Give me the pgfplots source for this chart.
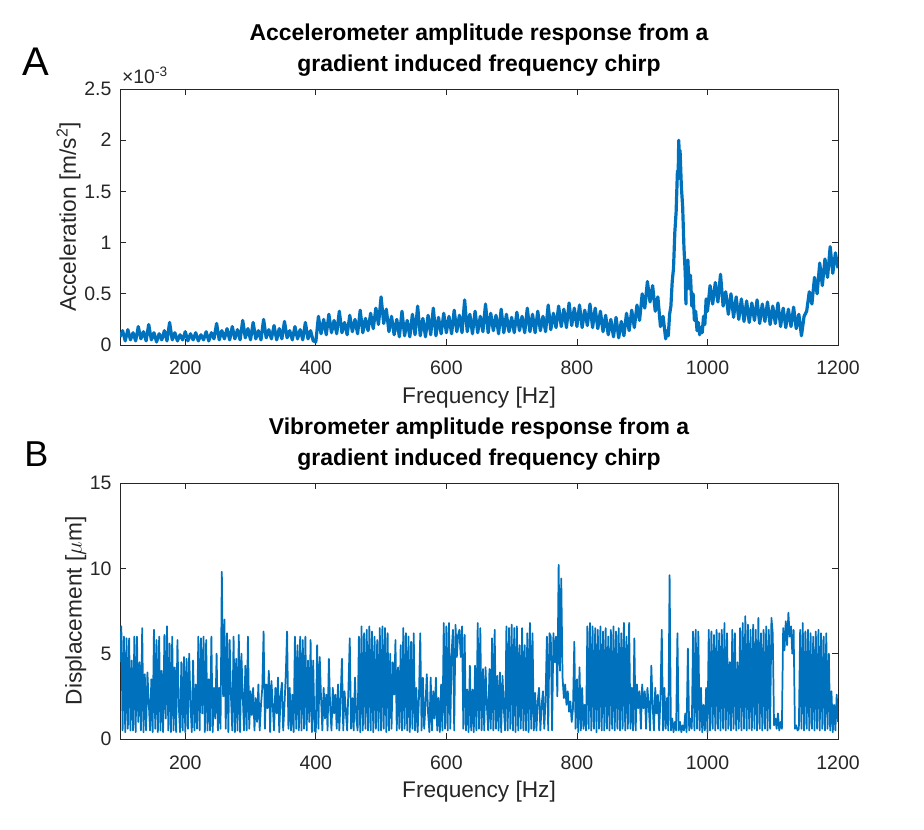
\documentclass[border=0pt]{standalone}
\usepackage{fontspec}
\setmainfont{Liberation Sans}
\usepackage{pgfplots}
\pgfplotsset{compat=1.18}
\definecolor{mblue}{RGB}{0,114,189}
\definecolor{axgray}{gray}{0.15}
\begin{document}
\begin{tikzpicture}
\useasboundingbox (0,0) rectangle (693pt,621.75pt);
\pgfplotsset{
  matlab/.style={
    width=538.5pt, height=192pt, scale only axis,
    xmin=100, xmax=1200, xtick={200,400,600,800,1000,1200},
    axis line style={axgray, line width=0.6pt},
    every tick/.style={axgray, line width=0.6pt},
    tick align=inside,
    /pgf/number format/assume math mode=true,
    /pgf/number format/1000 sep={},
    ticklabel style={font=\fontsize{14.6pt}{17pt}\selectfont, text=axgray},
    xticklabel style={anchor=base, inner sep=0pt, yshift=-22.5pt},
    yticklabel style={anchor=east, inner sep=0pt, xshift=-6.2pt},
    label style={font=\fontsize{17pt}{20pt}\selectfont, text=axgray},
    xlabel style={at={(axis description cs:0.5,-0.2276)}, anchor=base, inner sep=0pt},
    title style={font=\bfseries\fontsize{17.2pt}{23.6pt}\selectfont, align=center,
      at={(axis description cs:0.5,1)}, anchor=south, inner sep=0pt, yshift=3.1pt},
  }
}
\begin{axis}[matlab, name=top, at={(90pt,363pt)}, anchor=south west,
  ymin=0, ymax=2.5, ytick={0,0.5,1,1.5,2,2.5},
  xlabel={Frequency [Hz]},
  ylabel={Acceleration [m/s\textsuperscript{2}]},
  ylabel style={at={(axis description cs:-0.0613,0.5)}, anchor=base, inner sep=0pt},
  title={Accelerometer amplitude response from a\\gradient induced frequency chirp}]
\addplot[mblue, line width=2.4pt, line join=round, no markers] coordinates {
(100,0.08)(104,0.14)(108,0.04)(112,0.15)(116,0.05)(120,0.12)(124,0.04)(128,0.18)(132,0.06)(136,0.13)
(140,0.04)(144,0.20)(148,0.05)(152,0.12)(156,0.03)(160,0.11)(164,0.05)(168,0.14)(172,0.04)(176,0.22)
(180,0.05)(184,0.12)(188,0.04)(192,0.10)(196,0.05)(200,0.13)(204,0.04)(208,0.11)(212,0.05)(216,0.12)
(220,0.04)(224,0.10)(228,0.05)(232,0.13)(236,0.04)(240,0.12)(244,0.06)(248,0.21)(252,0.05)(256,0.14)
(260,0.06)(264,0.16)(268,0.05)(272,0.18)(276,0.06)(280,0.15)(284,0.05)(288,0.24)(292,0.07)(296,0.16)
(300,0.05)(304,0.22)(308,0.06)(312,0.14)(316,0.05)(320,0.25)(324,0.07)(328,0.15)(332,0.06)(336,0.19)
(340,0.05)(344,0.16)(348,0.06)(352,0.23)(356,0.07)(360,0.14)(364,0.05)(368,0.18)(372,0.06)(376,0.15)
(380,0.05)(384,0.22)(388,0.06)(392,0.14)(396,0.04)(400,0.03)(404,0.28)(408,0.11)(412,0.25)(416,0.10)
(420,0.30)(424,0.12)(428,0.24)(432,0.11)(436,0.33)(440,0.12)(444,0.22)(448,0.10)(452,0.29)(456,0.13)
(460,0.25)(464,0.11)(468,0.34)(472,0.12)(476,0.26)(480,0.14)(484,0.31)(488,0.16)(492,0.36)(496,0.20)
(500,0.47)(504,0.21)(508,0.35)(512,0.13)(516,0.28)(520,0.10)(524,0.25)(528,0.08)(532,0.33)(536,0.09)
(540,0.24)(544,0.08)(548,0.30)(552,0.10)(556,0.38)(560,0.09)(564,0.26)(568,0.08)(572,0.29)(576,0.10)
(580,0.36)(584,0.09)(588,0.27)(592,0.11)(596,0.31)(600,0.12)(604,0.28)(608,0.11)(612,0.34)(616,0.13)
(620,0.29)(624,0.12)(628,0.44)(632,0.13)(636,0.30)(640,0.11)(644,0.33)(648,0.12)(652,0.28)(656,0.13)
(660,0.40)(664,0.12)(668,0.31)(672,0.14)(676,0.29)(680,0.11)(684,0.35)(688,0.12)(692,0.30)(696,0.13)
(700,0.27)(704,0.12)(708,0.32)(712,0.14)(716,0.28)(720,0.12)(724,0.36)(728,0.13)(732,0.30)(736,0.12)
(740,0.33)(744,0.14)(748,0.28)(752,0.13)(756,0.39)(760,0.15)(764,0.31)(768,0.17)(772,0.38)(776,0.18)
(780,0.35)(784,0.17)(788,0.41)(792,0.19)(796,0.36)(800,0.18)(804,0.39)(808,0.17)(812,0.34)(816,0.19)
(820,0.40)(824,0.17)(828,0.36)(832,0.16)(836,0.33)(840,0.13)(844,0.29)(848,0.10)(852,0.25)(856,0.08)
(860,0.27)(864,0.07)(868,0.23)(872,0.09)(876,0.31)(880,0.14)(884,0.34)(888,0.17)(892,0.39)(896,0.24)
(900,0.50)(904,0.36)(908,0.62)(912,0.42)(916,0.58)(920,0.33)(924,0.47)(928,0.18)(932,0.28)(936,0.06)
(938,0.14)(940,0.09)(942,0.30)(944,0.38)(946,0.62)(948,0.75)(950,1.10)(952,1.30)(954,1.70)(955,1.62)
(956,2.00)(957,1.82)(958,1.90)(960,1.55)(962,1.35)(964,0.95)(966,0.70)(967,0.40)(968,0.78)(970,0.83)
(972,0.55)(974,0.68)(976,0.38)(978,0.50)(980,0.24)(982,0.33)(984,0.14)(986,0.22)(988,0.10)(990,0.17)
(992,0.12)(994,0.28)(996,0.20)(998,0.45)(1000,0.33)(1004,0.58)(1008,0.40)(1012,0.61)(1016,0.42)(1020,0.69)
(1024,0.38)(1028,0.52)(1032,0.30)(1036,0.50)(1040,0.27)(1044,0.47)(1048,0.25)(1052,0.45)(1056,0.23)(1060,0.43)
(1064,0.22)(1068,0.41)(1072,0.24)(1076,0.44)(1080,0.21)(1084,0.40)(1088,0.23)(1092,0.42)(1096,0.20)(1100,0.38)
(1104,0.21)(1108,0.41)(1112,0.18)(1116,0.36)(1120,0.17)(1124,0.35)(1128,0.18)(1132,0.37)(1136,0.16)(1140,0.30)
(1144,0.09)(1148,0.28)(1152,0.33)(1156,0.52)(1160,0.40)(1164,0.66)(1168,0.50)(1172,0.80)(1176,0.58)(1180,0.84)
(1184,0.66)(1188,0.96)(1192,0.70)(1196,0.90)(1200,0.75)
};
\end{axis}
\node[anchor=base west, inner sep=0pt, font=\fontsize{14.6pt}{17pt}\selectfont, text=axgray]
  at ([xshift=1.3pt,yshift=4.3pt]top.north west) {×10\textsuperscript{-3}};
\node[anchor=base west, inner sep=0pt, font=\fontsize{30pt}{36pt}\selectfont] at (16.3pt,564.75pt) {A};

\begin{axis}[matlab, name=bot, at={(90pt,67.5pt)}, anchor=south west,
  ymin=0, ymax=15, ytick={0,5,10,15},
  xlabel={Frequency [Hz]},
  ylabel={Displacement [$\mu$m]},
  ylabel style={at={(axis description cs:-0.0533,0.5)}, anchor=base, inner sep=0pt},
  title={Vibrometer amplitude response from a\\gradient induced frequency chirp}]
\addplot[mblue, line width=1.3pt, line join=round, no markers] coordinates {
(100,4.5)(102,6.6)(104,0.5)(106,6.0)(108,0.4)(110,5.9)(112,0.6)(114,5.9)(116,0.5)(118,4.6)
(120,0.5)(122,6.0)(124,0.4)(126,6.0)(128,1.0)(130,4.5)(132,0.5)(134,6.5)(136,0.4)(138,3.8)
(140,0.5)(142,3.9)(144,2.2)(146,0.5)(148,3.5)(150,0.4)(152,6.4)(154,0.6)(156,5.8)(158,0.4)
(160,6.0)(162,0.5)(164,4.0)(166,0.4)(168,6.1)(170,1.2)(172,6.6)(174,0.5)(176,5.6)(178,0.4)
(180,6.0)(182,0.5)(184,4.2)(186,0.4)(188,5.8)(190,2.0)(192,0.4)(194,4.5)(196,0.5)(198,4.8)
(200,0.4)(202,4.7)(204,0.6)(206,5.0)(208,2.0)(210,0.4)(212,4.6)(214,0.5)(216,3.2)(218,0.6)
(220,6.0)(222,0.5)(224,5.9)(226,1.5)(228,6.0)(230,0.4)(232,5.8)(234,0.5)(236,3.5)(238,0.5)
(240,6.0)(242,0.4)(244,3.0)(246,1.2)(248,5.0)(250,0.5)(252,3.0)(254,0.6)(256,9.8)(258,2.5)
(260,7.0)(262,0.6)(264,6.2)(266,0.4)(268,5.8)(270,2.5)(272,0.5)(274,6.0)(276,0.4)(278,4.7)
(280,0.5)(282,6.1)(284,0.4)(286,5.0)(288,2.6)(290,0.5)(292,4.3)(294,0.5)(296,6.0)(298,0.6)
(300,2.8)(302,1.4)(304,3.0)(306,0.5)(308,2.4)(310,1.0)(312,3.2)(314,0.5)(316,2.0)(318,3.0)
(320,6.3)(322,0.6)(324,3.2)(326,1.8)(328,4.0)(330,0.4)(332,3.4)(334,2.0)(336,0.5)(338,3.0)
(340,1.5)(342,3.6)(344,0.4)(346,2.5)(348,3.3)(350,0.5)(352,2.0)(354,3.8)(356,6.3)(358,0.6)
(360,3.0)(362,0.5)(364,2.6)(366,0.4)(368,6.0)(370,0.6)(372,5.5)(374,0.5)(376,6.0)(378,0.5)
(380,5.8)(382,0.6)(384,6.0)(386,0.5)(388,4.6)(390,1.0)(392,5.8)(394,0.4)(396,4.6)(398,0.5)
(400,0.4)(402,5.5)(404,0.6)(406,4.8)(408,2.4)(410,0.5)(412,3.0)(414,1.2)(416,2.6)(418,0.5)
(420,4.7)(422,1.8)(424,0.5)(426,3.0)(428,1.5)(430,2.6)(432,0.6)(434,3.2)(436,0.5)(438,2.4)
(440,4.7)(442,0.5)(444,2.8)(446,1.6)(448,0.5)(450,3.0)(452,5.9)(454,0.6)(456,2.4)(458,0.5)
(460,3.6)(462,1.2)(464,0.5)(466,6.0)(468,0.4)(470,6.6)(472,0.5)(474,6.2)(476,0.6)(478,6.4)
(480,0.5)(482,6.6)(484,0.5)(486,6.3)(488,0.4)(490,6.0)(492,0.6)(494,5.8)(496,0.5)(498,6.5)
(500,0.5)(502,6.6)(504,0.6)(506,6.5)(508,0.4)(510,6.2)(512,0.5)(514,5.0)(516,0.6)(518,4.5)
(520,2.6)(522,5.8)(524,0.5)(526,4.2)(528,0.6)(530,5.5)(532,0.5)(534,6.5)(536,0.6)(538,6.2)
(540,0.5)(542,6.0)(544,0.4)(546,5.7)(548,0.6)(550,6.2)(552,0.5)(554,3.0)(556,0.4)(558,2.4)
(560,6.2)(562,0.5)(564,3.6)(566,0.6)(568,2.0)(570,3.8)(572,1.5)(574,0.4)(576,3.6)(578,0.5)
(580,2.8)(582,1.2)(584,3.6)(586,0.5)(588,2.4)(590,0.4)(592,3.2)(594,0.5)(596,6.8)(598,0.6)
(600,6.6)(602,0.5)(604,6.8)(606,0.6)(608,5.0)(610,6.4)(612,0.5)(614,6.7)(616,4.8)(618,6.1)
(620,6.4)(622,4.8)(624,6.6)(626,0.6)(628,6.1)(630,0.5)(632,2.9)(634,0.4)(636,4.3)(638,0.5)
(640,2.9)(642,0.4)(644,4.3)(646,0.5)(648,6.8)(650,0.6)(652,6.5)(654,0.5)(656,4.1)(658,0.5)
(660,4.2)(662,2.0)(664,0.5)(666,4.1)(668,0.6)(670,5.9)(672,0.5)(674,6.4)(676,0.6)(678,3.7)
(680,0.5)(682,3.9)(684,0.4)(686,3.7)(688,1.8)(690,0.5)(692,6.6)(694,0.5)(696,6.5)(698,0.6)
(700,6.7)(702,0.5)(704,6.5)(706,0.4)(708,6.6)(710,0.5)(712,5.5)(714,0.6)(716,6.5)(718,0.5)
(720,5.5)(722,0.5)(724,6.2)(726,0.4)(728,6.8)(730,0.6)(732,6.2)(734,0.5)(736,2.7)(738,0.5)
(740,2.2)(742,3.0)(744,0.5)(746,2.0)(748,2.8)(750,0.6)(752,2.4)(754,6.0)(756,0.5)(758,6.2)
(760,6.0)(762,0.5)(764,6.2)(766,4.5)(768,6.0)(770,2.5)(772,10.2)(774,4.0)(776,9.4)(778,3.6)
(780,2.4)(782,3.2)(784,2.0)(786,2.8)(788,1.6)(790,2.2)(792,1.0)(794,1.8)(796,5.7)(798,0.6)
(800,3.5)(802,0.4)(804,4.2)(806,0.5)(808,3.0)(810,0.6)(812,2.0)(814,0.5)(816,6.6)(818,0.6)
(820,6.8)(822,0.5)(824,6.6)(826,0.6)(828,6.5)(830,0.4)(832,6.4)(834,0.6)(836,6.6)(838,0.5)
(840,6.3)(842,0.5)(844,6.5)(846,0.6)(848,6.0)(850,0.5)(852,6.4)(854,0.6)(856,6.6)(858,0.5)
(860,6.3)(862,0.6)(864,6.5)(866,0.5)(868,6.2)(870,0.6)(872,6.8)(874,0.5)(876,6.0)(878,0.6)
(880,6.8)(882,0.6)(884,3.0)(886,0.5)(888,5.9)(890,0.5)(892,3.2)(894,1.8)(896,2.8)(898,0.6)
(900,3.2)(902,1.8)(904,2.8)(906,0.6)(908,3.0)(910,2.0)(912,0.5)(914,4.3)(916,2.0)(918,0.5)
(920,3.0)(922,1.5)(924,2.6)(926,0.5)(928,2.4)(930,6.4)(932,0.5)(934,3.0)(936,0.6)(938,2.4)
(940,0.5)(942,9.6)(944,0.5)(946,1.2)(948,0.4)(950,1.0)(952,0.5)(954,6.2)(956,0.5)(958,1.0)
(960,0.4)(962,0.8)(964,0.5)(966,1.5)(968,0.4)(970,5.3)(972,0.5)(974,1.2)(976,0.6)(978,6.3)
(980,0.5)(982,6.4)(984,0.6)(986,6.3)(988,0.5)(990,3.0)(992,0.4)(994,2.0)(996,0.5)(998,3.0)
(1000,0.4)(1002,6.4)(1004,0.5)(1006,6.3)(1008,0.6)(1010,6.1)(1012,0.5)(1014,6.4)(1016,0.6)(1018,6.2)
(1020,0.5)(1022,6.4)(1024,0.6)(1026,6.8)(1028,0.5)(1030,6.2)(1032,0.6)(1034,4.5)(1036,0.5)(1038,6.4)
(1040,0.6)(1042,6.2)(1044,0.5)(1046,4.5)(1048,0.6)(1050,6.5)(1052,0.5)(1054,6.8)(1056,0.6)(1058,7.2)
(1060,0.5)(1062,6.7)(1064,0.6)(1066,6.4)(1068,0.5)(1070,6.7)(1072,0.6)(1074,6.4)(1076,0.5)(1078,7.1)
(1080,0.6)(1082,6.2)(1084,0.5)(1086,6.4)(1088,0.6)(1090,6.6)(1092,0.5)(1094,6.4)(1096,0.6)(1098,7.1)
(1100,6.2)(1102,0.8)(1104,1.2)(1106,0.6)(1108,1.5)(1110,0.5)(1112,1.0)(1114,0.6)(1116,6.5)(1118,5.2)
(1120,6.9)(1122,5.5)(1124,7.4)(1126,6.0)(1128,6.6)(1130,5.0)(1132,6.4)(1134,0.6)(1136,0.8)(1138,0.5)
(1140,0.6)(1142,6.4)(1144,0.6)(1146,6.8)(1148,0.5)(1150,6.3)(1152,0.6)(1154,6.4)(1156,0.5)(1158,6.2)
(1160,0.6)(1162,6.0)(1164,0.5)(1166,6.3)(1168,0.6)(1170,6.4)(1172,0.5)(1174,6.2)(1176,0.6)(1178,6.0)
(1180,0.5)(1182,6.2)(1184,0.6)(1186,5.0)(1188,0.5)(1190,2.8)(1192,0.4)(1194,2.0)(1196,0.5)(1198,2.6)
(1200,1.0)
};
\end{axis}
\node[anchor=base west, inner sep=0pt, font=\fontsize{27pt}{32pt}\selectfont] at (18pt,271.7pt) {B};
\end{tikzpicture}
\end{document}
